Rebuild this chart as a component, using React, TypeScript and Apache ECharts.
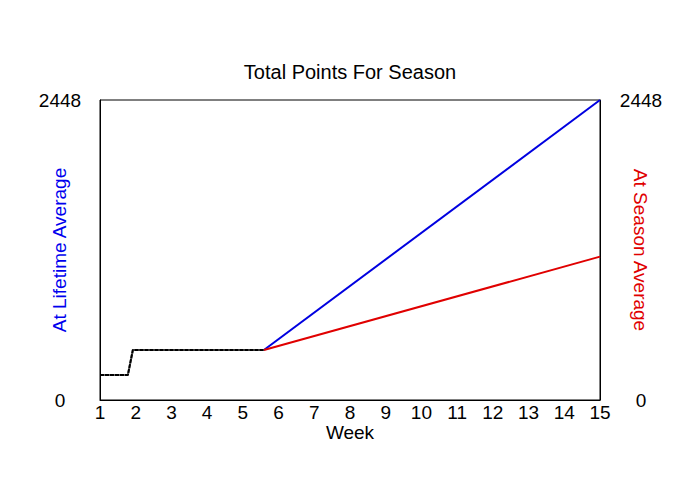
import React, { useEffect, useRef } from "react";
import * as echarts from "echarts";

const title = "Total Points For Season";
const xName = "Week";
const leftName = "At Lifetime Average";
const rightName = "At Season Average";
const yTicks = [0, 2448];

const actualWeeks = [1, 1.78, 1.92, 5.59];
const actualPoints = [204, 204, 408, 408];
const projWeeks = [5.59, 15];
const lifetimePoints = [408, 2448];
const seasonPoints = [408, 1170];

const FONT = "Liberation Sans, Arial, sans-serif";

export default function App() {
  const ref = useRef<HTMLDivElement>(null);
  useEffect(() => {
    if (!ref.current) return;
    const chart = echarts.init(ref.current, undefined, { renderer: "svg" });
    const pair = (xs: number[], ys: number[]) => xs.map((x, i) => [x, ys[i]]);
    const yLabel = (v: number) => String(v);
    chart.setOption({
      animation: false,
      backgroundColor: "#ffffff",
      textStyle: { fontFamily: FONT },
      title: {
        text: title,
        left: "center",
        top: 57,
        textStyle: { fontFamily: FONT, fontSize: 20, fontWeight: "normal", color: "#000" },
      },
      grid: {
        left: 100,
        top: 100,
        width: 500,
        height: 300,
        show: true,
        borderColor: "#000",
        borderWidth: 1,
        backgroundColor: "transparent",
      },
      xAxis: {
        type: "value",
        min: 1,
        max: 15,
        interval: 1,
        name: xName,
        nameLocation: "middle",
        nameGap: 23,
        nameMoveOverlap: false,
        nameTextStyle: { fontFamily: FONT, fontSize: 19, color: "#000", verticalAlign: "top" },
        axisLine: { show: true, lineStyle: { color: "#000", width: 1 } },
        axisTick: { show: false },
        splitLine: { show: false },
        axisLabel: { fontFamily: FONT, fontSize: 19, color: "#000", margin: 3 },
      },
      yAxis: [
        {
          type: "value",
          min: yTicks[0],
          max: yTicks[1],
          interval: yTicks[1],
          position: "left",
          name: leftName,
          nameLocation: "middle",
          nameGap: 31,
          nameMoveOverlap: false,
          nameRotate: 90,
          nameTextStyle: { fontFamily: FONT, fontSize: 19, color: "#0000ee" },
          axisLine: { show: true, lineStyle: { color: "#000", width: 1 } },
          axisTick: { show: false },
          splitLine: { show: false },
          axisLabel: { fontFamily: FONT, fontSize: 19, color: "#000", align: "center", margin: 40, formatter: yLabel },
        },
        {
          type: "value",
          min: yTicks[0],
          max: yTicks[1],
          interval: yTicks[1],
          position: "right",
          name: rightName,
          nameLocation: "middle",
          nameGap: 31,
          nameMoveOverlap: false,
          nameRotate: -90,
          nameTextStyle: { fontFamily: FONT, fontSize: 19, color: "#e00000" },
          axisLine: { show: true, lineStyle: { color: "#000", width: 1 } },
          axisTick: { show: false },
          splitLine: { show: false },
          axisLabel: { fontFamily: FONT, fontSize: 19, color: "#000", align: "center", margin: 41, formatter: yLabel },
        },
      ],
      series: [
        {
          type: "line",
          name: leftName,
          data: pair(projWeeks, lifetimePoints),
          showSymbol: false,
          lineStyle: { color: "#0000e0", width: 2 },
          z: 2,
        },
        {
          type: "line",
          name: rightName,
          data: pair(projWeeks, seasonPoints),
          showSymbol: false,
          lineStyle: { color: "#e00000", width: 2 },
          z: 3,
        },
        {
          type: "line",
          name: "actual-base",
          data: pair(actualWeeks, actualPoints),
          showSymbol: false,
          lineStyle: { color: "#666", width: 2 },
          z: 4,
        },
        {
          type: "line",
          name: "actual",
          data: pair(actualWeeks, actualPoints),
          showSymbol: false,
          lineStyle: { color: "#000", width: 2, type: [4, 1] },
          z: 5,
        },
      ],
    });
    return () => chart.dispose();
  }, []);
  return (
    <div
      ref={ref}
      style={{ position: "fixed", left: 0, top: 0, width: 700, height: 500 }}
    />
  );
}
